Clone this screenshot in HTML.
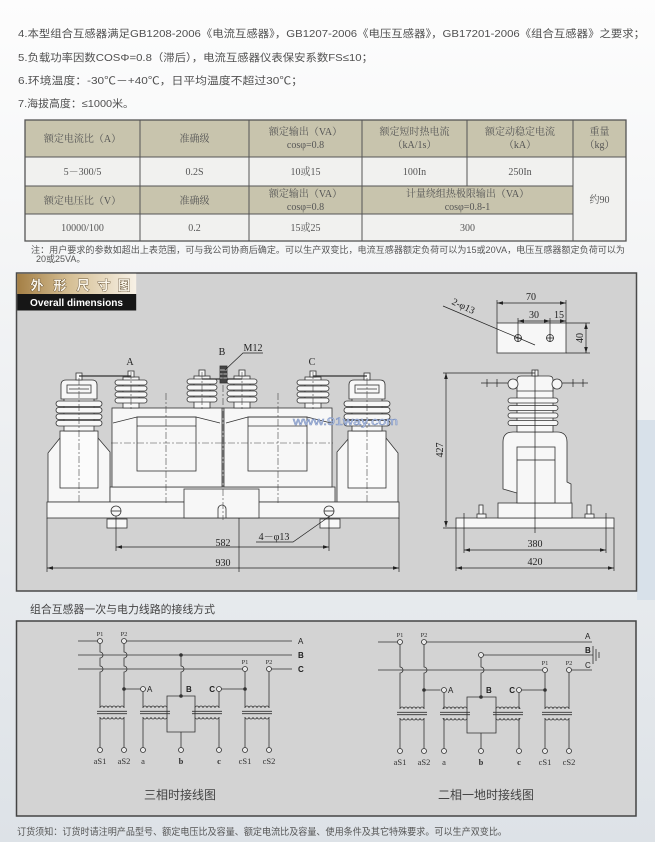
<!DOCTYPE html>
<html><head><meta charset="utf-8">
<style>
html,body{margin:0;padding:0;width:655px;height:842px;overflow:hidden;background:#f4f5f6}
svg{display:block}
.s{font-family:"Liberation Sans","Noto Sans CJK SC",sans-serif}
.r{font-family:"Liberation Serif","Noto Serif CJK SC",serif}
</style></head><body>
<svg width="655" height="842" viewBox="0 0 655 842" xmlns="http://www.w3.org/2000/svg">
<defs>
<linearGradient id="bg" x1="0" y1="0" x2="0" y2="1">
<stop offset="0" stop-color="#fdfdfd"/>
<stop offset="0.3" stop-color="#f4f5f6"/>
<stop offset="1" stop-color="#dde2e7"/>
</linearGradient>
<linearGradient id="gold" x1="0" y1="0" x2="1" y2="0">
<stop offset="0" stop-color="#a47f45"/>
<stop offset="0.45" stop-color="#d6c096"/>
<stop offset="1" stop-color="#f7f1e6"/>
</linearGradient>
<marker id="ar" viewBox="0 0 10 6" refX="10" refY="3" markerWidth="7" markerHeight="3.6" orient="auto-start-reverse" markerUnits="userSpaceOnUse"><path d="M0,0 L10,3 L0,6Z" fill="#222"/></marker>
</defs>

<rect x="0" y="0" width="655" height="842" fill="url(#bg)"/>
<rect x="637" y="420" width="18" height="180" fill="#d8e1ea"/>

<!-- top text -->
<g class="s" fill="#505050" font-size="10.5">
<text x="18" y="37" textLength="627" lengthAdjust="spacingAndGlyphs">4.本型组合互感器满足GB1208-2006《电流互感器》，GB1207-2006《电压互感器》，GB17201-2006《组合互感器》之要求；</text>
<text x="18" y="61" textLength="355" lengthAdjust="spacingAndGlyphs">5.负载功率因数COSΦ=0.8（滞后），电流互感器仪表保安系数FS≤10；</text>
<text x="18" y="84" textLength="285" lengthAdjust="spacingAndGlyphs">6.环境温度：-30℃－+40℃，日平均温度不超过30℃；</text>
<text x="18" y="107" textLength="116" lengthAdjust="spacingAndGlyphs">7.海拔高度：≤1000米。</text>
</g>

<!-- table -->
<g>
<rect x="25" y="120" width="601" height="37" fill="#c8c4ad"/>
<rect x="25" y="157" width="601" height="84" fill="#f1f1ef"/>
<rect x="25" y="186" width="548" height="28" fill="#c8c4ad"/>
<g stroke="#555" stroke-width="1" fill="none">
<rect x="25" y="120" width="601" height="121" stroke-width="1.3"/>
<path d="M25,157H626M25,186H573M25,214H573M140,120V241M249,120V241M362,120V241M467,120V186M573,120V241"/>
</g>
<g class="r" fill="#555" font-size="10" text-anchor="middle">
<text x="82.5" y="142">额定电流比（A）</text>
<text x="194.5" y="142">准确级</text>
<text x="305.5" y="135">额定输出（VA）</text>
<text x="305.5" y="148">cosφ=0.8</text>
<text x="414.5" y="135">额定短时热电流</text>
<text x="414.5" y="148">（kA/1s）</text>
<text x="520" y="135">额定动稳定电流</text>
<text x="520" y="148">（kA）</text>
<text x="599.5" y="135">重量</text>
<text x="599.5" y="148">（kg）</text>
<text x="82.5" y="175">5－300/5</text>
<text x="194.5" y="175">0.2S</text>
<text x="305.5" y="175">10或15</text>
<text x="414.5" y="175">100In</text>
<text x="520" y="175">250In</text>
<text x="599.5" y="203">约90</text>
<text x="82.5" y="204">额定电压比（V）</text>
<text x="194.5" y="204">准确级</text>
<text x="305.5" y="197">额定输出（VA）</text>
<text x="305.5" y="210">cosφ=0.8</text>
<text x="467.5" y="197">计量绕组热极限输出（VA）</text>
<text x="467.5" y="210">cosφ=0.8-1</text>
<text x="82.5" y="231">10000/100</text>
<text x="194.5" y="231">0.2</text>
<text x="305.5" y="231">15或25</text>
<text x="467.5" y="231">300</text>
</g>
</g>
<g class="s" fill="#555" font-size="9">
<text x="31" y="253" textLength="594" lengthAdjust="spacingAndGlyphs">注：用户要求的参数如超出上表范围，可与我公司协商后确定。可以生产双变比，电流互感器额定负荷可以为15或20VA，电压互感器额定负荷可以为</text>
<text x="36" y="262">20或25VA。</text>
</g>

<!-- drawing box -->
<rect x="16.5" y="273" width="620" height="318" fill="#d2d2d2" stroke="#4a4a4a" stroke-width="1.5"/>
<rect x="17.2" y="273.8" width="119" height="20.5" fill="url(#gold)"/>
<rect x="17.2" y="294" width="119" height="16.5" fill="#161616"/>
<g class="s" font-size="13" font-weight="bold" fill="#fbf6ea" stroke="#4a3518" stroke-width="0.7" paint-order="stroke" text-anchor="middle">
<text x="37" y="290">外</text><text x="60" y="290">形</text><text x="83" y="290">尺</text><text x="104" y="290">寸</text><text x="124" y="290">图</text>
</g>
<text class="s" x="30" y="306" font-size="10" font-weight="bold" fill="#fff" textLength="93" lengthAdjust="spacingAndGlyphs">Overall dimensions</text>

<!-- left drawing -->
<g stroke="#333" stroke-width="0.8" fill="#f7f7f7">
<path d="M48,502V453L60,438H98L110,452V502Z"/>
<path d="M337,502V452L349,438H386L398,453V502Z"/>
<rect x="60" y="431" width="38" height="57" fill="#fbfbfb"/>
<rect x="348" y="431" width="38" height="57" fill="#fbfbfb"/>
<rect x="110" y="487" width="225" height="15"/>
<rect x="112" y="408" width="110" height="79"/>
<rect x="224" y="408" width="108" height="79"/>
<rect x="47" y="502" width="352" height="16"/>
<rect x="184" y="489" width="75" height="29"/>
<path d="M218,518V509a4,4 0 0 1 8,0V518" fill="none"/>
<path d="M113,423L137,417H196L220,423M137,426H196M226,423L248,417H307L331,423M248,426H307" fill="none"/>
<rect x="137" y="417" width="59" height="54" fill="none"/>
<rect x="248" y="417" width="59" height="54" fill="none"/>
<!-- left CT -->
<rect x="64" y="398" width="30" height="33"/>
<rect x="56" y="401" width="46" height="5.5" rx="2.7"/>
<rect x="56" y="407.5" width="46" height="5.5" rx="2.7"/>
<rect x="56" y="414" width="46" height="5.5" rx="2.7"/>
<rect x="56" y="420.5" width="46" height="5.5" rx="2.7"/>
<path d="M61,399V385Q61,380 66,380H92Q97,380 97,385V399Z"/>
<rect x="67" y="385" width="24" height="8"/>
<path d="M69,389H89" fill="none"/>
<rect x="76" y="373" width="6" height="7"/>
<!-- right CT -->
<rect x="352" y="398" width="30" height="33"/>
<rect x="344" y="401" width="46" height="5.5" rx="2.7"/>
<rect x="344" y="407.5" width="46" height="5.5" rx="2.7"/>
<rect x="344" y="414" width="46" height="5.5" rx="2.7"/>
<rect x="344" y="420.5" width="46" height="5.5" rx="2.7"/>
<path d="M349,399V385Q349,380 354,380H380Q385,380 385,385V399Z"/>
<rect x="355" y="385" width="24" height="8"/>
<path d="M357,389H377" fill="none"/>
<rect x="364" y="373" width="6" height="7"/>
<!-- bushing A -->
<rect x="123" y="377" width="16" height="31"/>
<rect x="115" y="380" width="32" height="5" rx="2.5"/>
<rect x="115" y="386" width="32" height="5" rx="2.5"/>
<rect x="115" y="392" width="32" height="5" rx="2.5"/>
<rect x="115" y="398" width="32" height="5" rx="2.5"/>
<rect x="128" y="371" width="6" height="6"/>
<!-- B1 -->
<rect x="194" y="376" width="16" height="32"/>
<rect x="187" y="379" width="30" height="5" rx="2.5"/>
<rect x="187" y="385" width="30" height="5" rx="2.5"/>
<rect x="187" y="391" width="30" height="5" rx="2.5"/>
<rect x="187" y="397" width="30" height="5" rx="2.5"/>
<rect x="199" y="370" width="6" height="6"/>
<!-- B2 -->
<rect x="234" y="376" width="16" height="32"/>
<rect x="227" y="379" width="30" height="5" rx="2.5"/>
<rect x="227" y="385" width="30" height="5" rx="2.5"/>
<rect x="227" y="391" width="30" height="5" rx="2.5"/>
<rect x="227" y="397" width="30" height="5" rx="2.5"/>
<rect x="239" y="370" width="6" height="6"/>
<!-- C -->
<rect x="305" y="377" width="16" height="31"/>
<rect x="297" y="380" width="32" height="5" rx="2.5"/>
<rect x="297" y="386" width="32" height="5" rx="2.5"/>
<rect x="297" y="392" width="32" height="5" rx="2.5"/>
<rect x="297" y="398" width="32" height="5" rx="2.5"/>
<rect x="310" y="371" width="6" height="6"/>
<!-- bars -->
<path d="M79,376H131M313,376H367M202,379H242" fill="none" stroke-width="1.2"/>
<rect x="220" y="366" width="7" height="17" fill="#444"/>
<path d="M220,370H227M220,374H227M220,378H227" stroke="#ddd" fill="none"/>
<!-- feet / bolts -->
<rect x="107" y="519" width="20" height="9"/>
<rect x="320" y="519" width="20" height="9"/>
<circle cx="116" cy="511" r="5"/>
<circle cx="329" cy="511" r="5"/>
</g>
<g stroke="#444" stroke-width="0.6" fill="none" stroke-dasharray="7 2 2 2">
<path d="M111,443H333M166,393V503M278,393V503M223,372V520M79,378V502M367,378V502M131,372V410M202,372V410M242,372V410M313,372V410"/>
</g>
<g stroke="#222" stroke-width="0.7" fill="none">
<path d="M47,518V572M399,518V572M116,516V551M329,516V551M239,518V572M111,511H121M324,511H334"/>
<path d="M47,568H399" marker-start="url(#ar)" marker-end="url(#ar)"/>
<path d="M116,547H329" marker-start="url(#ar)" marker-end="url(#ar)"/>
<path d="M256,542H293L330,516"/>
<path d="M263,353H243L225,370"/>
</g>
<g class="r" fill="#222" font-size="10" text-anchor="middle">
<text x="223" y="546">582</text>
<text x="223" y="566">930</text>
<text x="274" y="540">4－φ13</text>
<text x="130" y="365">A</text>
<text x="222" y="355">B</text>
<text x="312" y="365">C</text>
<text x="253" y="351">M12</text>
</g>
<text class="s" x="293" y="425" font-size="11" fill="#cdd8ee" stroke="#7d93c2" stroke-width="0.5" textLength="105" lengthAdjust="spacingAndGlyphs">www.91way.com</text>

<!-- right drawing -->
<g stroke="#333" stroke-width="0.8" fill="#f7f7f7">
<rect x="497" y="323" width="69" height="30"/>
<circle cx="518" cy="338" r="3.5"/>
<circle cx="550" cy="338" r="3.5"/>
<rect x="456" y="518" width="158" height="10"/>
<rect x="498" y="503" width="74" height="15"/>
<path d="M503,489V442Q503,432 513,432H557Q567,432 567,442V482L571,484V503H517V493Z"/>
<rect x="517" y="447" width="38" height="56"/>
<rect x="517" y="390" width="36" height="42"/>
<rect x="508" y="398" width="50" height="5" rx="2.5"/>
<rect x="508" y="405.5" width="50" height="5" rx="2.5"/>
<rect x="508" y="413" width="50" height="5" rx="2.5"/>
<rect x="508" y="420.5" width="50" height="5" rx="2.5"/>
<path d="M517,391V380Q517,376 521,376H549Q553,376 553,380V391Z"/>
<circle cx="513" cy="384" r="5"/>
<circle cx="557" cy="384" r="5"/>
<rect x="532" y="370" width="6" height="6"/>
<rect x="479" y="505" width="4" height="10"/>
<rect x="477" y="514" width="9" height="4"/>
<rect x="587" y="505" width="4" height="10"/>
<rect x="585" y="514" width="9" height="4"/>
</g>
<g stroke="#222" stroke-width="0.7" fill="none">
<path d="M517,460H555M481,383H508M562,383H588M487,379V387M497,379V387M573,379V387M583,379V387"/>
<path d="M514,338H522M518,334V342M546,338H554M550,334V342"/>
<path d="M497,300V323M566,300V323M518,318V342M550,318V342M566,323H590M566,353H590"/>
<path d="M497,303H566" marker-start="url(#ar)" marker-end="url(#ar)"/>
<path d="M518,321H550" marker-start="url(#ar)" marker-end="url(#ar)"/>
<path d="M550,321H566" marker-end="url(#ar)"/>
<path d="M586,323V353" marker-start="url(#ar)" marker-end="url(#ar)"/>
<path d="M443,306L535,345"/>
<path d="M443,373H535M443,528H456M535,370V533"/>
<path d="M446,373V527" marker-start="url(#ar)" marker-end="url(#ar)"/>
<path d="M464,513V553M606,513V553M456,528V571M614,528V571"/>
<path d="M464,550H606" marker-start="url(#ar)" marker-end="url(#ar)"/>
<path d="M456,568H614" marker-start="url(#ar)" marker-end="url(#ar)"/>
</g>
<g class="r" fill="#222" font-size="10" text-anchor="middle">
<text x="531" y="300">70</text>
<text x="534" y="318">30</text>
<text x="559" y="318">15</text>
<text x="0" y="0" transform="translate(583,338) rotate(-90)">40</text>
<text x="0" y="0" transform="translate(443,450) rotate(-90)">427</text>
<text x="535" y="547">380</text>
<text x="535" y="565">420</text>
<text x="0" y="0" transform="translate(462,309) rotate(25)">2-φ13</text>
</g>

<!-- wiring section -->
<text class="s" x="30" y="613" font-size="11" fill="#444" textLength="185" lengthAdjust="spacingAndGlyphs">组合互感器一次与电力线路的接线方式</text>
<rect x="16.5" y="621" width="619.5" height="195" fill="#d3d3d3" stroke="#444" stroke-width="1.5"/>

<!-- diagram 1 -->
<g>
<g stroke="#333" stroke-width="0.8" fill="none">
<path d="M78,641H100M124,641H292M78,655H292M78,669H245M269,669H292"/>
<path d="M100,643.5V652a3,3 0 0 1 0,6V666a3,3 0 0 1 0,6V708M100,717V747.5"/>
<path d="M124,643.5V652a3,3 0 0 1 0,6V666a3,3 0 0 1 0,6V708M124,717V747.5M124,689H140.5"/>
<path d="M143,691.5V708M143,717V747.5"/>
<path d="M167,696H195V732H167Z"/>
<path d="M181,655V666a3,3 0 0 1 0,6V696M181,732V747.5"/>
<path d="M219,691.5V708M219,717V747.5M221.5,689H245"/>
<path d="M245,671.5V708M245,717V747.5M269,671.5V708M269,717V747.5"/>
<path d="M100,708a2,2 0 0 1 4,0a2,2 0 0 1 4,0a2,2 0 0 1 4,0a2,2 0 0 1 4,0a2,2 0 0 1 4,0a2,2 0 0 1 4,0M100,717a2,2 0 0 0 4,0a2,2 0 0 0 4,0a2,2 0 0 0 4,0a2,2 0 0 0 4,0a2,2 0 0 0 4,0a2,2 0 0 0 4,0"/>
<path d="M143,708a2,2 0 0 1 4,0a2,2 0 0 1 4,0a2,2 0 0 1 4,0a2,2 0 0 1 4,0a2,2 0 0 1 4,0a2,2 0 0 1 4,0M143,717a2,2 0 0 0 4,0a2,2 0 0 0 4,0a2,2 0 0 0 4,0a2,2 0 0 0 4,0a2,2 0 0 0 4,0a2,2 0 0 0 4,0"/>
<path d="M195,708a2,2 0 0 1 4,0a2,2 0 0 1 4,0a2,2 0 0 1 4,0a2,2 0 0 1 4,0a2,2 0 0 1 4,0a2,2 0 0 1 4,0M195,717a2,2 0 0 0 4,0a2,2 0 0 0 4,0a2,2 0 0 0 4,0a2,2 0 0 0 4,0a2,2 0 0 0 4,0a2,2 0 0 0 4,0"/>
<path d="M245,708a2,2 0 0 1 4,0a2,2 0 0 1 4,0a2,2 0 0 1 4,0a2,2 0 0 1 4,0a2,2 0 0 1 4,0a2,2 0 0 1 4,0M245,717a2,2 0 0 0 4,0a2,2 0 0 0 4,0a2,2 0 0 0 4,0a2,2 0 0 0 4,0a2,2 0 0 0 4,0a2,2 0 0 0 4,0"/>
<path d="M97,711.3H127M97,713.7H127M140,711.3H170M140,713.7H170M192,711.3H222M192,713.7H222M242,711.3H272M242,713.7H272"/>
</g>
<g stroke="#333" stroke-width="0.8" fill="#e8e8e8">
<circle cx="100" cy="641" r="2.5"/><circle cx="124" cy="641" r="2.5"/>
<circle cx="245" cy="669" r="2.5"/><circle cx="269" cy="669" r="2.5"/>
<circle cx="143" cy="689" r="2.5"/><circle cx="219" cy="689" r="2.5"/>
<circle cx="100" cy="750" r="2.5"/><circle cx="124" cy="750" r="2.5"/><circle cx="143" cy="750" r="2.5"/>
<circle cx="181" cy="750" r="2.5"/><circle cx="219" cy="750" r="2.5"/><circle cx="245" cy="750" r="2.5"/><circle cx="269" cy="750" r="2.5"/>
</g>
<g fill="#333">
<circle cx="124" cy="689" r="1.8"/><circle cx="181" cy="655" r="1.8"/><circle cx="181" cy="696" r="1.8"/><circle cx="245" cy="689" r="1.8"/>
</g>
<g class="r" fill="#333" font-size="6.5" text-anchor="middle">
<text x="100" y="636">P1</text><text x="124" y="636">P2</text><text x="245" y="664">P1</text><text x="269" y="664">P2</text>
</g>
<g class="r" fill="#333" font-size="8.5" text-anchor="middle">
<text x="100" y="764">aS1</text><text x="124" y="764">aS2</text><text x="143" y="764">a</text>
<text x="181" y="764" font-weight="bold">b</text><text x="219" y="764" font-weight="bold">c</text>
<text x="245" y="764">cS1</text><text x="269" y="764">cS2</text>
</g>
<g class="s" fill="#222" font-size="8" font-weight="bold">
<text x="298" y="644" font-weight="normal">A</text><text x="298" y="658">B</text><text x="298" y="672">C</text>
<text x="147" y="692" font-weight="normal">A</text><text x="186" y="692">B</text><text x="215" y="692" text-anchor="end">C</text>
</g>
<text class="s" x="180" y="799" font-size="12" fill="#444" text-anchor="middle">三相时接线图</text>
</g>

<!-- diagram 2 -->
<g transform="translate(300,1)">
<g stroke="#333" stroke-width="0.8" fill="none">
<path d="M78,641H100M124,641H292M183.5,654H293M78,669H245M269,669H292M293,645V663M296,648V660M299,651V657"/>
<path d="M100,643.5V666a3,3 0 0 1 0,6V708M100,717V747.5"/>
<path d="M124,643.5V666a3,3 0 0 1 0,6V708M124,717V747.5M124,689H140.5"/>
<path d="M144,691.5V708M144,717V747.5"/>
<path d="M167,696H196V732H167Z"/>
<path d="M181,656.5V666a3,3 0 0 1 0,6V696M181,732V747.5"/>
<path d="M219,691.5V708M219,717V747.5M221.5,689H245"/>
<path d="M245,671.5V708M245,717V747.5M269,671.5V708M269,717V747.5"/>
<path d="M100,708a2,2 0 0 1 4,0a2,2 0 0 1 4,0a2,2 0 0 1 4,0a2,2 0 0 1 4,0a2,2 0 0 1 4,0a2,2 0 0 1 4,0M100,717a2,2 0 0 0 4,0a2,2 0 0 0 4,0a2,2 0 0 0 4,0a2,2 0 0 0 4,0a2,2 0 0 0 4,0a2,2 0 0 0 4,0"/>
<path d="M143,708a2,2 0 0 1 4,0a2,2 0 0 1 4,0a2,2 0 0 1 4,0a2,2 0 0 1 4,0a2,2 0 0 1 4,0a2,2 0 0 1 4,0M143,717a2,2 0 0 0 4,0a2,2 0 0 0 4,0a2,2 0 0 0 4,0a2,2 0 0 0 4,0a2,2 0 0 0 4,0a2,2 0 0 0 4,0"/>
<path d="M196,708a2,2 0 0 1 4,0a2,2 0 0 1 4,0a2,2 0 0 1 4,0a2,2 0 0 1 4,0a2,2 0 0 1 4,0a2,2 0 0 1 4,0M196,717a2,2 0 0 0 4,0a2,2 0 0 0 4,0a2,2 0 0 0 4,0a2,2 0 0 0 4,0a2,2 0 0 0 4,0a2,2 0 0 0 4,0"/>
<path d="M245,708a2,2 0 0 1 4,0a2,2 0 0 1 4,0a2,2 0 0 1 4,0a2,2 0 0 1 4,0a2,2 0 0 1 4,0a2,2 0 0 1 4,0M245,717a2,2 0 0 0 4,0a2,2 0 0 0 4,0a2,2 0 0 0 4,0a2,2 0 0 0 4,0a2,2 0 0 0 4,0a2,2 0 0 0 4,0"/>
<path d="M97,711.3H127M97,713.7H127M140,711.3H170M140,713.7H170M193,711.3H223M193,713.7H223M242,711.3H272M242,713.7H272"/>
</g>
<g stroke="#333" stroke-width="0.8" fill="#e8e8e8">
<circle cx="100" cy="641" r="2.5"/><circle cx="124" cy="641" r="2.5"/>
<circle cx="245" cy="669" r="2.5"/><circle cx="269" cy="669" r="2.5"/>
<circle cx="181" cy="654" r="2.5"/>
<circle cx="144" cy="689" r="2.5"/><circle cx="219" cy="689" r="2.5"/>
<circle cx="100" cy="750" r="2.5"/><circle cx="124" cy="750" r="2.5"/><circle cx="144" cy="750" r="2.5"/>
<circle cx="181" cy="750" r="2.5"/><circle cx="219" cy="750" r="2.5"/><circle cx="245" cy="750" r="2.5"/><circle cx="269" cy="750" r="2.5"/>
</g>
<g fill="#333">
<circle cx="124" cy="689" r="1.8"/><circle cx="181" cy="696" r="1.8"/><circle cx="245" cy="689" r="1.8"/>
</g>
<g class="r" fill="#333" font-size="6.5" text-anchor="middle">
<text x="100" y="636">P1</text><text x="124" y="636">P2</text><text x="245" y="664">P1</text><text x="269" y="664">P2</text>
</g>
<g class="r" fill="#333" font-size="8.5" text-anchor="middle">
<text x="100" y="764">aS1</text><text x="124" y="764">aS2</text><text x="144" y="764">a</text>
<text x="181" y="764" font-weight="bold">b</text><text x="219" y="764" font-weight="bold">c</text>
<text x="245" y="764">cS1</text><text x="269" y="764">cS2</text>
</g>
<g class="s" fill="#222" font-size="8" font-weight="bold">
<text x="285" y="638" font-weight="normal">A</text><text x="285" y="652">B</text><text x="285" y="667" font-weight="normal">C</text>
<text x="148" y="692" font-weight="normal">A</text><text x="186" y="692">B</text><text x="215" y="692" text-anchor="end">C</text>
</g>
<text class="s" x="186" y="798" font-size="12" fill="#444" text-anchor="middle">二相一地时接线图</text>
</g>

<text class="s" x="17" y="835" font-size="9.5" fill="#555" textLength="490" lengthAdjust="spacingAndGlyphs">订货须知：订货时请注明产品型号、额定电压比及容量、额定电流比及容量、使用条件及其它特殊要求。可以生产双变比。</text>
</svg>
</body></html>
